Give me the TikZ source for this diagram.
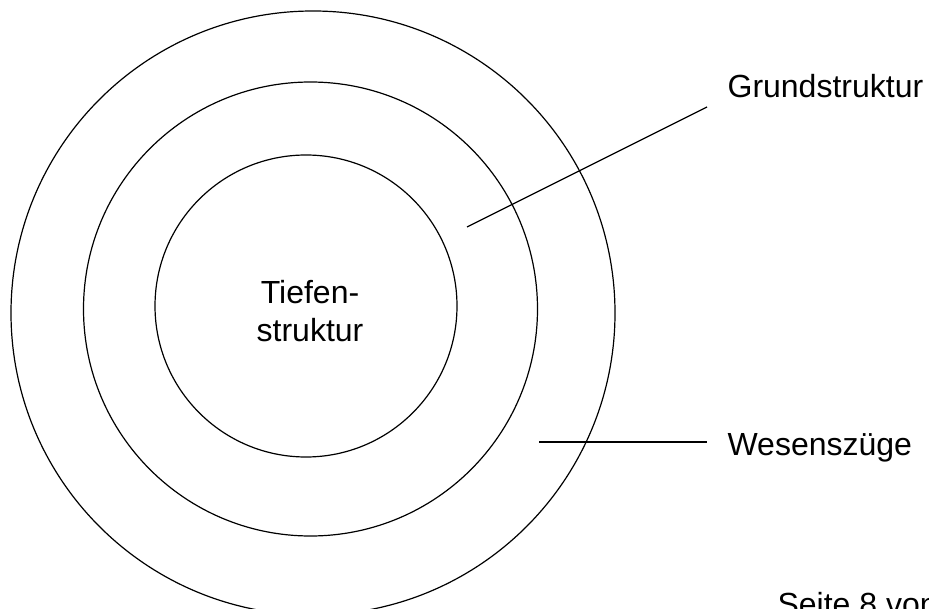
\documentclass[tikz,border=0pt]{standalone}
\usepackage{fontspec}
\setmainfont{Liberation Sans}
\begin{document}
\begin{tikzpicture}[x=1pt, y=-1pt, line width=1.2pt,
    lbl/.style={font=\fontsize{32}{38}\selectfont, inner sep=0pt}]
    \useasboundingbox (0, 0) rectangle (929, 609);
    \clip (0, 0) rectangle (929, 609);
    \draw (313, 313) circle (302pt);
    \draw (310.5, 309) circle (227pt);
    \draw (306, 306) circle (151pt);
    \node[lbl, align=center] (tiefe) at (310, 311) {Tiefen-\\struktur};
    \node[lbl, anchor=base west] (grund) at (727, 98) {Grundstruktur};
    \node[lbl, anchor=base west] (wesen) at (727, 455) {Wesenszüge};
    \node[lbl, anchor=base west] (seite) at (777, 615) {Seite 8 von};
    \coordinate (g1) at (467, 227);
    \coordinate (g2) at (707, 107);
    \coordinate (w1) at (539, 442);
    \coordinate (w2) at (707, 442);
    \draw (g1) -- (g2);
    \draw (w1) -- (w2);
\end{tikzpicture}
\end{document}
